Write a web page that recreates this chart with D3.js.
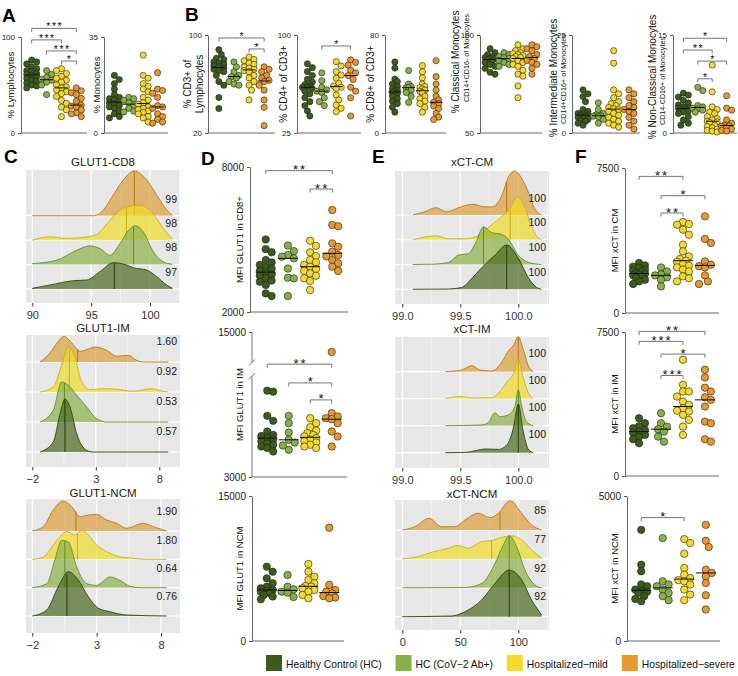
<!DOCTYPE html>
<html><head><meta charset="utf-8">
<script src="https://cdn.jsdelivr.net/npm/d3@7"></script>
<style>
body{margin:0;background:#fff;}
svg{display:block;font-family:"Liberation Sans",Arial,Helvetica,sans-serif;}
</style></head><body>
<svg id="fig" width="738" height="676"></svg>
<script>
// ---------------- groups / colours ----------------
const groups = ["Healthy Control (HC)", "HC (CoV\u22122 Ab+)", "Hospitalized\u2212mild", "Hospitalized\u2212severe"];
const dotColors = ["#3d5c1b", "#88b046", "#f4da2c", "#e8982c"];
const ridgeFill = ["#4a6a20", "#8db04a", "#f0dc2a", "#dc9e3a"];
const ridgeLine = ["#2e4510", "#66902a", "#c6b21c", "#b87a1c"];

// ---------------- Panel A (values per group: HC, HC Ab+, mild, severe) ----------------
const lymphocytes = [
  [76,74,72,69,67,65,64,62,61,60,59,57,55,54,52,50,49,47],
  [65,61,58,56,55,53,50,40],
  [67,65,62,59,57,55,53,50,48,47,45,43,41,38,34,31,27,24,17],
  [47,44,42,40,36,33,29,28,27,24,21,20,17]];
const lymphocytesSig = [[0,3,"***",109],[0,2,"***",97],[1,3,"***",85.5],[2,3,"*",75]];
const monocytes = [
  [21,19.5,18,16,14,13,12.5,12,11.5,11,10.5,10,9.5,9,8,7,6,5.5],
  [13,12.5,12,11,10,9,8,7.7],
  [28.4,21,20,18,17,16,15,13,12,11,10.5,9.5,9,8.5,8,7.5,7,6,5.5,4],
  [22,16,15.5,14.5,13,10,9.5,9,7,6,5,4,3.6]];

// ---------------- Panel B ----------------
const cd3 = [
  [88,84,81,80,78,77,76,75,74,73,72,71,70,67,62,59,49,40],
  [78,74,70,67,66,65,62,60,59],
  [82,80,79,77,76,74,73,72,71,70,67,65,62,59,55,47],
  [74,72,70,67,65,63,62,59,55,47,41,26]];
const cd3Sig = [[0,3,"*",97.6],[2,3,"*",88.6]];
const cd4 = [
  [78,75,72,69,66,64,62,61,60,60,59,57,55,52,49,46,42,38],
  [71,65,60,58,57,56,52,49,46],
  [79.6,76.3,71.9,69.4,66.9,63,61,60,59.2,54.1,50.3,46.4,43.9,41.3],
  [81,79,77,73,71,69,66,60,57,52,38]];
const cd4Sig = [[1,3,"*",91.6]];
const cd8 = [
  [58,53,44,42,40,38,36,35,34,33,32,31,30,28,26,24,21,17],
  [51,40,38,37,37,35,33,30,25],
  [55,50,45,40,38,37,36,35,34,33,30,28,26,24,21,17],
  [59,46,40,35,30,27,25,24,22,20,16,13,11]];
const classicalMono = [
  [93,91,90,89,88.5,88,88,87.5,87,86,85,84,83,81,80],
  [91,90,89,88.5,88,87,86,85,84],
  [95,93,92,91,90.5,90,89.5,89,88.5,88,87,86,85,84,82,80,79,74,68],
  [95,94,93,92,90,89,88,87,86,85,83,80]];
const intermediateMono = [
  [11,10,9.3,8,6,5.5,5,4.8,4.6,4.5,4.3,4,3.8,3.5,3.2,3,2.5,2],
  [7.7,6,5,4.6,4.4,4.3,4.2,3.5,2.5],
  [21,17.8,11,10,9,8,7.5,7,6.5,6.2,6,5.5,5,4.5,4,3.5,3,2.5,2,1.5],
  [11,10,9,8,7,6.5,6,5.5,5,4,3,2,1]];
const nonClassicalMono = [
  [6.1,5.8,5.5,5,4.6,4.3,4,3.9,3.8,3.7,3.6,3.4,3.2,3,2.5,2,1.5,1.2],
  [7,6.5,4.2,4,3.8,3.7,3.5,3.2],
  [10.4,6.3,4,3.6,3.2,3,2.5,2.2,2,1.8,1.7,1.6,1.2,1,0.8,0.6,0.4,0.3,0.15],
  [5.7,3.8,3.5,2,1.5,1.2,1.1,1,0.8,0.6,0.4,0.3]];
const nonClassicalSig = [[0,3,"*",14.5],[0,2,"**",12.7],[1,3,"*",11.0],[1,2,"*",8.3]];

// ---------------- Panel D ----------------
const glut1CD8 = [
  [5000,4600,4470,4150,4050,3950,3850,3800,3700,3600,3550,3500,3400,3300,3250,3120,2770,2660],
  [4750,4520,4360,4290,4220,3800,3420,3390,2660],
  [4950,4740,4470,4320,4150,4055,3945,3875,3780,3700,3600,3500,3395,3280,2910],
  [6220,5600,5550,4840,4700,4495,4360,4300,4150,4015,3875,3700]];
const glut1CD8Sig = [[0,3,"**",7850],[2,3,"**",7090]];
const glut1IM = [
  [7112,7065,5911,5674,5165,5008,4950,4852,4800,4690,4600,4534,4450,4377,4216],
  [5911,5564,5118,4771,4643,4500,4296],
  [5800,5564,5374,5213,5090,5000,4928,4850,4771,4700,4643,4534,4450,4377],
  [13750,6039,5878,5800,5754,5564,5165,4928,4453]];
const glut1IMSig = [[0,3,"**",12900],[1,3,"*",7480],[2,3,"*",6670]];
const glut1NCM = [
  [7690,7170,6480,5970,5620,5450,5276,5200,5100,4950,4760,4600,4310],
  [6830,5620,5350,5100,5000,4550],
  [7970,7170,6650,6310,5970,5690,5620,5450,5276,5100,4760,4420],
  [11720,5800,5276,5100,4930,4650,4500,4420]];

// ---------------- Panel F ----------------
const xctCM = [
  [2586,2462,2400,2328,2240,2200,2152,2069,2017,1981,1950,1893,1810,1722,1634,1500],
  [2359,2152,2000,1945,1841,1722,1376],
  [4707,4600,4567,4308,4050,3533,3186,2928,2800,2705,2650,2534,2450,2359,2250,2152,1893,1800,1634],
  [4998,3828,3621,2669,2498,2420,2359,1945,1634,1500]];
const xctCMSig = [[0,2,"**",7066],[1,3,"*",6067],[1,2,"**",5172]];
const xctIM = [
  [3011,2750,2600,2489,2400,2312,2250,2140,2050,1915,1706],
  [3272,2750,2573,2437,2312,2051,1790],
  [6054,4750,4400,4400,4139,3878,3705,3533,3400,3356,3184,2923,2573,2140],
  [5532,5131,4600,4400,4100,3966,3617,2834,2750,1915,1790]];
const xctIMSig = [[0,3,"**",7530],[0,2,"***",7010],[1,3,"*",6350],[1,2,"***",5235]];
const xctNCM = [
  [3833,2632,2403,1950,1888,1774,1720,1700,1660,1545,1450,1373],
  [3548,2059,1950,1888,1774,1660,1545,1407],
  [3514,3377,3010,2519,2289,2170,2100,2059,1946,1774,1602,1407],
  [4005,3456,3240,2461,2347,2231,2000,1579,1088]];
const xctNCMSig = [[0,2,"*",4255]];

// ---------------- Panel C / E ridgelines: [value, relative density] per group ----------------
const glut1CD8Density = [
  [[90,0.7],[91.5,4],[93.48,8.3],[94.62,9],[95.75,17.3],[96.88,26.3],[98.02,24],[98.58,21.3],[99.72,19],[100.57,12.3],[101.42,4],[101.9,0.7]],
  [[90,1],[92.07,4.3],[93.77,14.3],[94.9,18.7],[95.75,16],[96.6,9.3],[97.45,21],[98.16,34],[98.72,38.7],[99.43,32.7],[100.28,12.7],[101.13,2.7],[101.9,0.3]],
  [[90,0],[91.5,3.3],[92.92,1.7],[94.62,3.3],[95.47,5.7],[96.6,20],[97.45,30],[98.3,34],[99.15,35],[100.14,28],[101.13,11.7],[101.9,1]],
  [[90,0],[95.2,0],[95.75,2.3],[96.88,20.7],[97.73,35.7],[98.67,44.7],[99.72,35.7],[100.57,20.7],[101.42,5.7],[101.9,0.7]]];
const glut1CD8Medians = [96.97, 98.6, 98.0, 98.67];
const glut1CD8Labels = ["97","98","98","99"];

const glut1IMDensity = [
  [[-1.39,0],[-0.35,10],[0.18,38],[0.57,53],[0.97,45],[1.5,18],[2.28,1.7],[2.8,0],[8.71,0]],
  [[-1.39,0],[-0.35,11.7],[0.31,40],[0.84,36.7],[1.5,26.7],[2.28,15],[3.07,3.3],[3.86,0],[8.71,0]],
  [[-1.39,0],[-0.35,5],[0.31,26.7],[0.84,45],[1.36,35],[1.89,10],[2.54,2.3],[3.59,3.3],[4.65,2.7],[5.95,0.7],[7.4,3.3],[8.31,0.7],[8.71,0]],
  [[-1.39,0],[-0.61,9],[0.05,20.7],[0.5,25.7],[1.1,19],[1.76,10.7],[2.41,13],[2.94,15],[3.86,11.7],[4.65,5.7],[5.56,6.7],[6.22,1.7],[6.74,0],[8.71,0]]];
const glut1IMMedians = [0.57, 0.53, 0.92, 1.57];
const glut1IMLabels = ["0.57","0.53","0.92","1.60"];

const glut1NCMDensity = [
  [[-2,0],[-0.88,6],[0.02,29.3],[0.8,44.3],[1.57,36],[2.35,19.3],[3.13,7.7],[4.04,4.3],[5.33,1],[8.44,0]],
  [[-2,0],[-0.88,4],[-0.24,28],[0.28,47.3],[0.8,45.7],[1.45,20.7],[2.23,4],[3.0,2.3],[4.04,10.7],[4.81,7.3],[5.59,1.3],[6.37,0],[8.44,0]],
  [[-2,0],[-1.15,2],[-0.37,14.3],[0.15,22.7],[0.67,27.7],[1.32,24.3],[1.84,29.3],[2.35,24.3],[3.0,14.3],[3.78,7.7],[4.56,3.3],[5.85,1],[6.89,0],[8.44,0]],
  [[-2,0],[-1.15,4.3],[-0.37,21],[0.41,30],[1.06,24.3],[1.71,14.3],[2.35,16],[3.0,16.7],[3.78,11],[4.56,7.7],[5.33,2.7],[6.62,7.7],[7.4,4.3],[8.44,0]]];
const glut1NCMMedians = [0.69, 0.53, 1.51, 1.39];
const glut1NCMLabels = ["0.76","0.64","1.80","1.90"];

const xctCMDensity = [
  [[99.09,0],[99.4,0.3],[99.51,1.7],[99.6,11],[99.68,21],[99.8,34.3],[99.9,44.3],[100.0,31],[100.09,11],[100.16,1.7],[100.2,0]],
  [[99.09,0],[99.25,0.3],[99.4,2],[99.48,9.3],[99.57,11],[99.63,21],[99.7,37.7],[99.77,32],[99.86,30],[99.91,26],[100.0,9.3],[100.09,2],[100.2,0]],
  [[99.09,0],[99.195,2.7],[99.29,4],[99.4,1],[99.54,1],[99.66,4.3],[99.77,15],[99.86,23.3],[99.94,33.3],[99.99,42.7],[100.04,36.7],[100.1,18.3],[100.16,3.3],[100.2,0]],
  [[99.09,0],[99.195,3.3],[99.29,7.3],[99.38,3.3],[99.51,8.3],[99.61,10.7],[99.7,8.3],[99.77,8],[99.86,20],[99.91,36.7],[99.97,44],[100.03,36.7],[100.09,21.7],[100.14,6.7],[100.2,0]]];
const xctCMMedians = [99.9, 99.7, 99.93, 99.9];
const xctCMLabels = ["100","100","100","100"];

const xctIMDensity = [
  [[99.37,0],[99.54,0.3],[99.66,2.7],[99.71,3.7],[99.83,3.3],[99.91,9.3],[99.96,26],[100.0,48.7],[100.04,22.7],[100.09,2.7],[100.13,0]],
  [[99.37,0],[99.68,0.7],[99.74,3],[99.8,13],[99.84,9],[99.91,10.7],[99.97,19],[100.0,35.7],[100.03,19],[100.07,4],[100.13,0]],
  [[99.37,0],[99.51,2.3],[99.6,0.7],[99.77,1],[99.86,10],[99.91,18],[99.96,25],[100.0,40],[100.04,22],[100.09,5],[100.13,0]],
  [[99.37,0],[99.51,1.7],[99.6,6],[99.67,1.7],[99.77,0.7],[99.86,10],[99.91,20],[99.96,26.7],[100.0,35],[100.04,23.3],[100.09,5],[100.13,0]]];
const xctIMMedians = [100, 100, 100, 100];
const xctIMLabels = ["100","100","100","100"];

const xctNCMDensity = [
  [[0,0],[42.5,0.7],[54,5],[68.4,16.7],[79.9,33.3],[92.2,46.7],[102.9,36.7],[111.5,16.7],[120.1,1.7]],
  [[0,0],[54,0.3],[68.4,4.3],[79.9,24.3],[87.1,42.7],[92.2,52],[98.6,41],[105.7,17.7],[114.4,2.7],[120.1,0]],
  [[0,0],[13.8,2.3],[25.3,6.7],[36.8,9.7],[48.3,13.3],[56.9,10.7],[68.4,17.3],[77,18.3],[88.5,22.3],[94.3,23],[102.9,19],[111.5,9],[120.1,0.7]],
  [[0,0],[10.9,3.3],[23,11.7],[33.9,3.3],[45.4,3.3],[54,10],[65.5,16.7],[75.6,12.3],[82.8,16.7],[92.8,29.3],[102.9,16.7],[111.5,5],[120.1,0]]];
const xctNCMMedians = [92.2, 92.2, 77, 84.2];
const xctNCMLabels = ["92","92","77","85"];

// ======================= drawing =======================
const svg = d3.select("#fig");

function swarm(vals, cx, y, r, maxOff) {
  const pts = vals.map(v => ({v, py: y(v)})).sort((a, b) => a.py - b.py);
  const placed = [];
  const minD = r * 1.75;
  const cands = [0];
  for (let k = 1; k <= 8; k++) { cands.push(k * r * 0.8, -k * r * 0.8); }
  const usable = cands.filter(o => Math.abs(o) <= maxOff);
  pts.forEach(p => {
    let best = null, bestScore = -1;
    for (const off of usable) {
      const dmin = placed.length ? d3.min(placed, q => Math.hypot(q.px - (cx + off), q.py - p.py)) : Infinity;
      if (dmin >= minD) { best = off; break; }
      if (dmin > bestScore) { bestScore = dmin; best = off; }
    }
    p.px = cx + best;
    placed.push(p);
  });
  return placed;
}

function rotLabel(g, x, y, txt, size) {
  g.append("text").attr("transform", `translate(${x},${y}) rotate(-90)`)
    .attr("text-anchor", "middle").attr("dominant-baseline", "central")
    .attr("font-size", size).attr("fill", "#111").text(txt);
}

function dotPlot(c) {
  const g = svg.append("g");
  const y = c.y || d3.scaleLinear().domain(c.domain).range([c.bottom, c.top]);
  const x = d3.scalePoint().domain([0, 1, 2, 3]).range([c.left, c.right]).padding(c.pad || 0.72);
  g.append("line").attr("x1", c.left).attr("x2", c.right).attr("y1", c.bottom).attr("y2", c.bottom)
    .attr("stroke", "#9a9a9a").attr("stroke-width", 1.6);
  const ax = d3.axisLeft(y).tickValues(c.ticks).tickSize(3).tickSizeOuter(0).tickFormat(d3.format("d"));
  const ag = g.append("g").attr("transform", `translate(${c.left},0)`).call(ax);
  ag.selectAll(".tick line").attr("stroke", "#555");
  ag.selectAll(".tick text").attr("font-size", c.tickFont).attr("fill", "#222")
    .attr("font-family", '"Liberation Sans",Arial,sans-serif');
  if (c.breakAt) {
    ag.select(".domain").remove();
    const [lo, hi] = c.breakAt;
    g.append("line").attr("x1", c.left).attr("x2", c.left).attr("y1", y(c.ticks[0])).attr("y2", y(lo)).attr("stroke", "#777");
    g.append("line").attr("x1", c.left).attr("x2", c.left).attr("y1", y(hi)).attr("y2", y(c.ticks[1])).attr("stroke", "#777");
    [lo, hi].forEach(v => g.append("line").attr("x1", c.left - 3).attr("x2", c.left + 3)
      .attr("y1", y(v) + 3).attr("y2", y(v) - 3).attr("stroke", "#777"));
  } else {
    ag.select(".domain").attr("stroke", "#666").attr("stroke-width", 1);
  }
  const ly = c.labelY || (c.top + c.bottom) / 2;
  c.labels.forEach((t, i) => rotLabel(g, c.labelX[i], (c.labelYs ? c.labelYs[i] : ly), t, c.labelSize[i]));
  const step = x.step();
  c.data.forEach((vals, gi) => {
    const pts = swarm(vals, x(gi), y, c.r, step * 0.36);
    g.append("g").selectAll("circle").data(pts).join("circle")
      .attr("cx", d => d.px).attr("cy", d => d.py).attr("r", c.r)
      .attr("fill", dotColors[gi]).attr("stroke", "#1e1e1e").attr("stroke-width", 0.6);
    const m = d3.median(vals);
    g.append("line").attr("x1", x(gi) - c.mw).attr("x2", x(gi) + c.mw)
      .attr("y1", y(m)).attr("y2", y(m)).attr("stroke", "#111").attr("stroke-width", 1);
  });
  (c.sig || []).forEach(([a, b, lab, v]) => {
    const yy = y(v), x1 = x(a), x2 = x(b);
    g.append("path").attr("d", `M${x1},${yy + 3.5}V${yy}H${x2}V${yy + 3.5}`)
      .attr("fill", "none").attr("stroke", "#666").attr("stroke-width", 0.9);
    g.append("text").attr("x", (x1 + x2) / 2 + c.starSpace / 2).attr("y", yy + c.starFont * 0.58 - 4)
      .attr("text-anchor", "middle").attr("font-size", c.starFont).attr("letter-spacing", c.starSpace)
      .attr("fill", "#111").text(lab);
  });
}

function ridgePanel(c) {
  const g = svg.append("g");
  const x = d3.scaleLinear().domain(c.xRef).range(c.xRefPx);
  const yb = d3.scaleLinear().domain([0, 3]).range([c.base0, c.base3]);
  const dens = d3.scaleLinear().domain([0, 10]).range([0, 10]);
  g.append("rect").attr("x", c.left).attr("y", c.top).attr("width", c.right - c.left)
    .attr("height", c.bottom - c.top).attr("fill", "#e7e7e7");
  c.minor.forEach(v => g.append("line").attr("x1", x(v)).attr("x2", x(v)).attr("y1", c.top).attr("y2", c.bottom)
    .attr("stroke", "#fff").attr("stroke-width", 0.6));
  c.major.forEach(v => g.append("line").attr("x1", x(v)).attr("x2", x(v)).attr("y1", c.top).attr("y2", c.bottom)
    .attr("stroke", "#fff").attr("stroke-width", 1.2));
  [0, 1, 2, 3].forEach(i => g.append("line").attr("x1", c.left).attr("x2", c.right).attr("y1", yb(i)).attr("y2", yb(i))
    .attr("stroke", "#fff").attr("stroke-width", 1.2));
  for (let i = 3; i >= 0; i--) {
    const d = c.data[i], base = yb(i);
    const area = d3.area().x(p => x(p[0])).y0(base).y1(p => base - dens(p[1])).curve(d3.curveMonotoneX);
    const line = d3.line().x(p => x(p[0])).y(p => base - dens(p[1])).curve(d3.curveMonotoneX);
    g.append("path").attr("d", area(d)).attr("fill", ridgeFill[i]).attr("fill-opacity", 0.7);
    g.append("path").attr("d", line(d)).attr("fill", "none").attr("stroke", ridgeLine[i]).attr("stroke-width", 0.9);
    const m = c.medians[i];
    const j = d3.bisector(p => p[0]).left(d, m);
    const p0 = d[Math.max(0, j - 1)], p1 = d[Math.min(d.length - 1, j)];
    const t = p1[0] === p0[0] ? 0 : (m - p0[0]) / (p1[0] - p0[0]);
    const hm = p0[1] + t * (p1[1] - p0[1]);
    g.append("line").attr("x1", x(m)).attr("x2", x(m)).attr("y1", base).attr("y2", base - dens(hm))
      .attr("stroke", ridgeLine[i]).attr("stroke-width", 1.1);
  }
  c.labels.forEach((t, i) => g.append("text").attr("x", c.right - 3).attr("y", yb(i + 0.7))
    .attr("text-anchor", "end").attr("dominant-baseline", "central").attr("font-size", 10.5).attr("fill", "#1a1a1a").text(t));
  g.append("text").attr("x", (c.left + c.right) / 2).attr("y", c.titleY).attr("text-anchor", "middle")
    .attr("font-size", 11.5).attr("fill", "#1a1a1a").text(c.title);
  const ax = d3.axisBottom(x).tickValues(c.major).tickSize(3.5).tickFormat(c.fmt);
  const ag = g.append("g").attr("transform", `translate(0,${c.bottom})`).call(ax);
  ag.select(".domain").remove();
  ag.selectAll(".tick line").attr("stroke", "#333");
  ag.selectAll(".tick text").attr("font-size", 11).attr("fill", "#333").attr("dy", "0.85em")
    .attr("font-family", '"Liberation Sans",Arial,sans-serif');
}

// ---------- panel letters ----------
[["A", 2, 22], ["B", 185, 21], ["C", 4, 163], ["D", 201, 165], ["E", 372, 163], ["F", 575, 163]].forEach(([t, x, y]) =>
  svg.append("text").attr("x", x).attr("y", y).attr("font-size", 19).attr("font-weight", "bold").attr("fill", "#000").text(t));

// ---------- A ----------
const ab = {r: 3.1, mw: 6.5, tickFont: 8, starFont: 10.5, starSpace: 1.5};
dotPlot({...ab, left: 21, right: 87, top: 37, bottom: 133, domain: [0, 100], ticks: [0, 100], data: lymphocytes,
  sig: lymphocytesSig, labels: ["% Lymphocytes"], labelX: [10], labelSize: [9.5]});
dotPlot({...ab, left: 104, right: 168, top: 37, bottom: 133, domain: [0, 35], ticks: [0, 35], data: monocytes,
  labels: ["% Monocytes"], labelX: [96], labelSize: [9.5]});
// ---------- B ----------
dotPlot({...ab, left: 208, right: 275, top: 35, bottom: 133, domain: [20, 100], ticks: [20, 100], data: cd3,
  sig: cd3Sig, labels: ["% CD3+ of", "Lymphocytes"], labelX: [187, 199], labelSize: [10, 10]});
dotPlot({...ab, left: 297, right: 361, top: 35, bottom: 133, domain: [25, 100], ticks: [25, 100], data: cd4,
  sig: cd4Sig, labels: ["% CD4+ of CD3+"], labelX: [283], labelSize: [10]});
dotPlot({...ab, left: 385, right: 446, top: 35, bottom: 133, domain: [0, 80], ticks: [0, 80], data: cd8,
  labels: ["% CD8+ of CD3+"], labelX: [370], labelSize: [10]});
dotPlot({...ab, left: 480, right: 542, top: 35, bottom: 133, domain: [50, 100], ticks: [50, 100], data: classicalMono,
  labels: ["% Classical Monocytes", "CD14+CD16- of Monocytes"], labelX: [455, 466], labelYs: [62, 58], labelSize: [10, 7.2]});
dotPlot({...ab, left: 572, right: 640, top: 35, bottom: 133, domain: [0, 25], ticks: [0, 25], data: intermediateMono,
  labels: ["% Intermediate Monocytes", "CD14+CD16+ of Monocytes"], labelX: [553, 563], labelYs: [78, 79], labelSize: [10, 7.2]});
dotPlot({...ab, left: 673, right: 737, top: 35, bottom: 133, domain: [0, 15], ticks: [0, 15], data: nonClassicalMono,
  sig: nonClassicalSig, labels: ["% Non-Classical Monocytes", "CD14-CD16+ of Monocytes"], labelX: [652, 662], labelYs: [77, 81], labelSize: [10, 7.2]});

// ---------- D ----------
const df = {r: 3.7, mw: 10, tickFont: 10, starFont: 13, starSpace: 2, pad: 0.71};
dotPlot({...df, left: 250, right: 348, top: 167, bottom: 312, domain: [2000, 8000], ticks: [2000, 8000], data: glut1CD8,
  sig: glut1CD8Sig, labels: ["MFI GLUT1 in CD8+"], labelX: [239], labelSize: [9.5]});
const imScale = d3.scaleLinear().domain([3000, 8000, 13000, 15000]).range([477, 372, 364, 332]);
dotPlot({...df, left: 252, right: 347, top: 332, bottom: 477, y: imScale, ticks: [3000, 15000], breakAt: [7800, 13100],
  data: glut1IM, sig: glut1IMSig, labels: ["MFI GLUT1 in IM"], labelX: [239], labelSize: [9.5]});
dotPlot({...df, left: 252, right: 344, top: 496, bottom: 641, domain: [0, 15000], ticks: [0, 15000], data: glut1NCM,
  labels: ["MFI GLUT1 in NCM"], labelX: [239], labelSize: [9.5]});
// ---------- F ----------
dotPlot({...df, pad: 0.64, left: 625, right: 719, top: 168, bottom: 313, domain: [0, 7500], ticks: [0, 7500], data: xctCM,
  sig: xctCMSig, labels: ["MFI xCT in CM"], labelX: [614], labelSize: [9.5]});
dotPlot({...df, pad: 0.64, left: 625, right: 719, top: 332, bottom: 476, domain: [0, 7500], ticks: [0, 7500], data: xctIM,
  sig: xctIMSig, labels: ["MFI xCT in IM"], labelX: [614], labelSize: [9.5]});
dotPlot({...df, pad: 0.66, left: 627, right: 720, top: 496, bottom: 641, domain: [0, 5000], ticks: [0, 5000], data: xctNCM,
  sig: xctNCMSig, labels: ["MFI xCT in NCM"], labelX: [614], labelSize: [9.5]});

// ---------- C ----------
const fmtNum = d => String(d).replace("-", "\u2212");
ridgePanel({left: 26, right: 180, top: 170, bottom: 303, xRef: [90, 100], xRefPx: [32.3, 150], base0: 289, base3: 215.7,
  major: [90, 95, 100], minor: [92.5, 97.5, 102.5], data: glut1CD8Density, medians: glut1CD8Medians, labels: glut1CD8Labels,
  title: "GLUT1-CD8", titleY: 166, fmt: fmtNum});
ridgePanel({left: 26, right: 180, top: 335, bottom: 467, xRef: [-2, 8], xRefPx: [32.3, 159.3], base0: 452, base3: 362,
  major: [-2, 3, 8], minor: [0.5, 5.5], data: glut1IMDensity, medians: glut1IMMedians, labels: glut1IMLabels,
  title: "GLUT1-IM", titleY: 332, fmt: fmtNum});
ridgePanel({left: 26, right: 180, top: 499, bottom: 633, xRef: [-2, 8], xRefPx: [32.3, 161], base0: 616, base3: 531,
  major: [-2, 3, 8], minor: [0.5, 5.5], data: glut1NCMDensity, medians: glut1NCMMedians, labels: glut1NCMLabels,
  title: "GLUT1-NCM", titleY: 497, fmt: fmtNum});
// ---------- E ----------
ridgePanel({left: 395, right: 549, top: 171, bottom: 304, xRef: [99, 100], xRefPx: [402.3, 518.3], base0: 289.3, base3: 215,
  major: [99, 99.5, 100], minor: [99.25, 99.75, 100.25], data: xctCMDensity, medians: xctCMMedians, labels: xctCMLabels,
  title: "xCT-CM", titleY: 166, fmt: d3.format(".1f")});
ridgePanel({left: 395, right: 549, top: 337, bottom: 468, xRef: [99, 100], xRefPx: [402.3, 518.3], base0: 452.7, base3: 371.7,
  major: [99, 99.5, 100], minor: [99.25, 99.75, 100.25], data: xctIMDensity, medians: xctIMMedians, labels: xctIMLabels,
  title: "xCT-IM", titleY: 333, fmt: d3.format(".1f")});
ridgePanel({left: 395, right: 549, top: 500, bottom: 630, xRef: [0, 100], xRefPx: [402.3, 518.3], base0: 616.7, base3: 530,
  major: [0, 50, 100], minor: [25, 75, 125], data: xctNCMDensity, medians: xctNCMMedians, labels: xctNCMLabels,
  title: "xCT-NCM", titleY: 498, fmt: d3.format("d")});

// ---------- legend ----------
const lg = svg.append("g");
let lx = 266;
groups.forEach((t, i) => {
  lg.append("rect").attr("x", lx).attr("y", 655).attr("width", 16).attr("height", 16).attr("fill", dotColors[i]);
  const tx = lg.append("text").attr("x", lx + 20).attr("y", 667.5).attr("font-size", 10.3).attr("fill", "#111").text(t);
  lx += 20 + tx.node().getComputedTextLength() + 14;
});
</script>
</body></html>
